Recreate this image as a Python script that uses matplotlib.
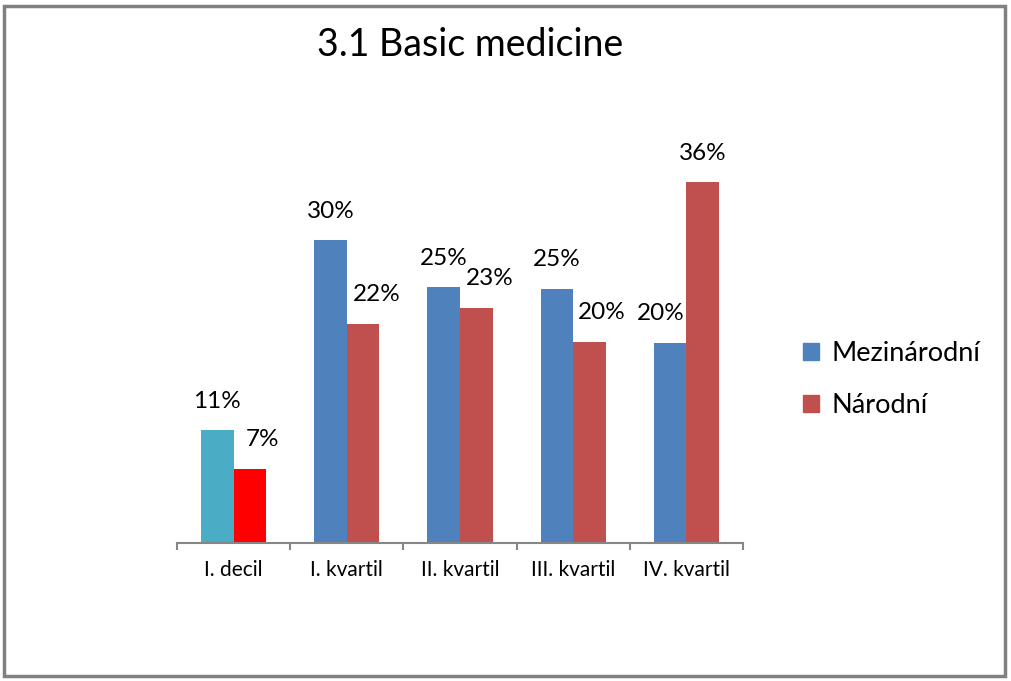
import matplotlib
matplotlib.use("Agg")
import matplotlib.pyplot as plt
from matplotlib.patches import Rectangle
import numpy as np

categories = ["I. decil", "I. kvartil", "II. kvartil", "III. kvartil", "IV. kvartil"]
mezinarodni = [11.2, 30.1, 25.45, 25.3, 19.9]
narodni = [7.4, 21.8, 23.4, 20.0, 35.9]
series_names = ["Mezinárodní", "Národní"]
title = "3.1 Basic medicine"

W, H = 1012, 681
fig = plt.figure(figsize=(W / 100, H / 100), dpi=100)
plt.rcParams['font.family'] = ['Lato', 'DejaVu Sans']

# border
fig.patches.append(Rectangle((4 / W, 5 / H), 1001 / W, 670 / H, transform=fig.transFigure,
                             fill=False, edgecolor="#808080", linewidth=2.5))

ax_l, ax_r, ax_b, ax_t = 177, 743, 543, 100
ax = fig.add_axes([ax_l / W, 1 - ax_b / H, (ax_r - ax_l) / W, (ax_b - ax_t) / H])
px_per_pct = 10.05
ax.set_ylim(0, (ax_b - ax_t) / px_per_pct)
ax.set_xlim(0, len(categories))

blue, red = "#4F81BD", "#C0504D"
blue0, red0 = "#4BACC6", "#FF0000"
bw = 0.288
x = np.arange(len(categories)) + 0.5
bcols = [blue0] + [blue] * 4
rcols = [red0] + [red] * 4
ax.bar(x - bw / 2, mezinarodni, bw, color=bcols, label=series_names[0])
ax.bar(x + bw / 2, narodni, bw, color=rcols, label=series_names[1])

# data labels (offsets in points to mimic Excel label placement)
dx_b = [0, 0, 0, 0, -7]
dx_r = [9, 10, 10, 9, 0]
for i in range(len(categories)):
    ax.annotate(f"{round(mezinarodni[i])}%", (x[i] - bw / 2, mezinarodni[i]), xytext=(dx_b[i], 21),
                textcoords="offset points", ha="center", va="center", fontsize=17.5, color="#000000")
    ax.annotate(f"{round(narodni[i])}%", (x[i] + bw / 2, narodni[i]), xytext=(dx_r[i], 21),
                textcoords="offset points", ha="center", va="center", fontsize=17.5, color="#000000")

for s in ["top", "right", "left"]:
    ax.spines[s].set_visible(False)
ax.spines["bottom"].set_color("#868686")
ax.spines["bottom"].set_linewidth(1.5)
ax.set_yticks([])
ax.set_xticks(np.arange(len(categories) + 1))
ax.set_xticklabels([])
ax.set_xticks(x, minor=True)
ax.set_xticklabels(categories, minor=True, fontsize=15)
ax.tick_params(axis="x", which="major", length=5, width=1.5, color="#868686")
ax.tick_params(axis="x", which="minor", length=0, pad=12)

fig.text(470 / W, 1 - 45 / H, title, ha="center", va="center", fontsize=27)

h = [Rectangle((0, 0), 1, 1, color=blue), Rectangle((0, 0), 1, 1, color=red)]
fig.legend(h, series_names, loc="upper left", bbox_to_anchor=(795 / W, 1 - 333 / H),
           frameon=False, fontsize=19.5, handlelength=0.6, handleheight=0.6,
           handletextpad=0.45, labelspacing=1.0, borderaxespad=0, borderpad=0.3)

fig.savefig("out.png", dpi=100)
